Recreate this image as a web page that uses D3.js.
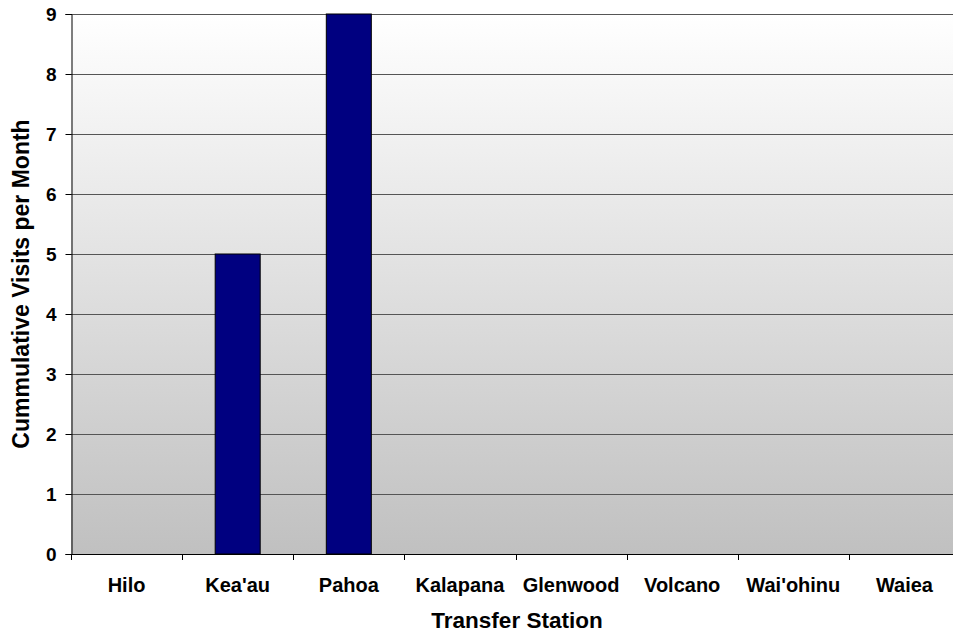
<!DOCTYPE html>
<html><head><meta charset="utf-8">
<script src="https://cdn.jsdelivr.net/npm/d3@7"></script>
<style>body{margin:0;background:#fff}svg{display:block;font-family:"Liberation Sans",Arial,sans-serif}</style>
</head><body><svg id="c" width="953" height="635"></svg>
<script>
const categories = ["Hilo","Kea'au","Pahoa","Kalapana","Glenwood","Volcano","Wai'ohinu","Waiea"];
const visits = [0,5,9,0,0,0,0,0];
const yTicks = [0,1,2,3,4,5,6,7,8,9];

const svg = d3.select("#c");
const m = {l:71, t:14, r:960, b:554};
const x = d3.scaleBand().domain(categories).range([m.l, m.r]).paddingInner(0).paddingOuter(0);
const y = d3.scaleLinear().domain([0,9]).range([m.b, m.t]);

const defs = svg.append("defs");
const g = defs.append("linearGradient").attr("id","bg").attr("x1",0).attr("y1",0).attr("x2",0).attr("y2",1);
g.append("stop").attr("offset","0%").attr("stop-color","#ffffff");
g.append("stop").attr("offset","100%").attr("stop-color","#c0c0c0");

svg.append("rect").attr("x",m.l).attr("y",m.t).attr("width",m.r-m.l).attr("height",m.b-m.t).attr("fill","url(#bg)");

svg.append("g").selectAll("line").data(yTicks.filter(d=>d>0)).join("line")
  .attr("x1",m.l).attr("x2",m.r).attr("y1",d=>Math.round(y(d))+0.5).attr("y2",d=>Math.round(y(d))+0.5)
  .attr("stroke","#555").attr("stroke-width",1);

const bw = x.bandwidth()*0.405;
svg.append("g").selectAll("rect").data(categories.map((c,i)=>({c,v:visits[i]})).filter(d=>d.v>0)).join("rect")
  .attr("x",d=>x(d.c)+x.bandwidth()/2-bw/2).attr("width",bw)
  .attr("y",d=>y(d.v)).attr("height",d=>y(0)-y(d.v))
  .attr("fill","#000080").attr("stroke","#000").attr("stroke-width",1);

const ya = svg.append("g").attr("transform",`translate(${m.l+0.5},0)`)
  .call(d3.axisLeft(y).tickValues(yTicks).tickSize(6).tickPadding(9).tickFormat(d3.format("d")));
ya.selectAll("text").attr("font-size",19).attr("font-weight","bold").attr("fill","#000").attr("font-family","Liberation Sans, Arial, sans-serif");
ya.select(".domain").attr("stroke","#000");
ya.selectAll(".tick line").attr("stroke","#000");

const xa = svg.append("g").attr("transform",`translate(0,${m.b+0.5})`)
  .call(d3.axisBottom(x).tickSize(0).tickPadding(0));
xa.selectAll("text").attr("dy",null).attr("y",37);
xa.select(".domain").attr("stroke","#000").attr("d",`M${m.l},0H${m.r}`);
xa.selectAll("text").attr("font-size",20).attr("font-weight","bold").attr("fill","#000").attr("font-family","Liberation Sans, Arial, sans-serif");
svg.append("g").selectAll("line").data(categories).join("line")
  .attr("x1",d=>Math.round(x(d))+0.5).attr("x2",d=>Math.round(x(d))+0.5)
  .attr("y1",m.b).attr("y2",m.b+6).attr("stroke","#000");

svg.append("text").attr("x",517).attr("y",628).attr("text-anchor","middle")
  .attr("font-size",22.5).attr("font-weight","bold").text("Transfer Station");
svg.append("text").attr("transform",`translate(29,284) rotate(-90)`).attr("text-anchor","middle")
  .attr("font-size",23).attr("font-weight","bold").text("Cummulative Visits per Month");
</script></body></html>
